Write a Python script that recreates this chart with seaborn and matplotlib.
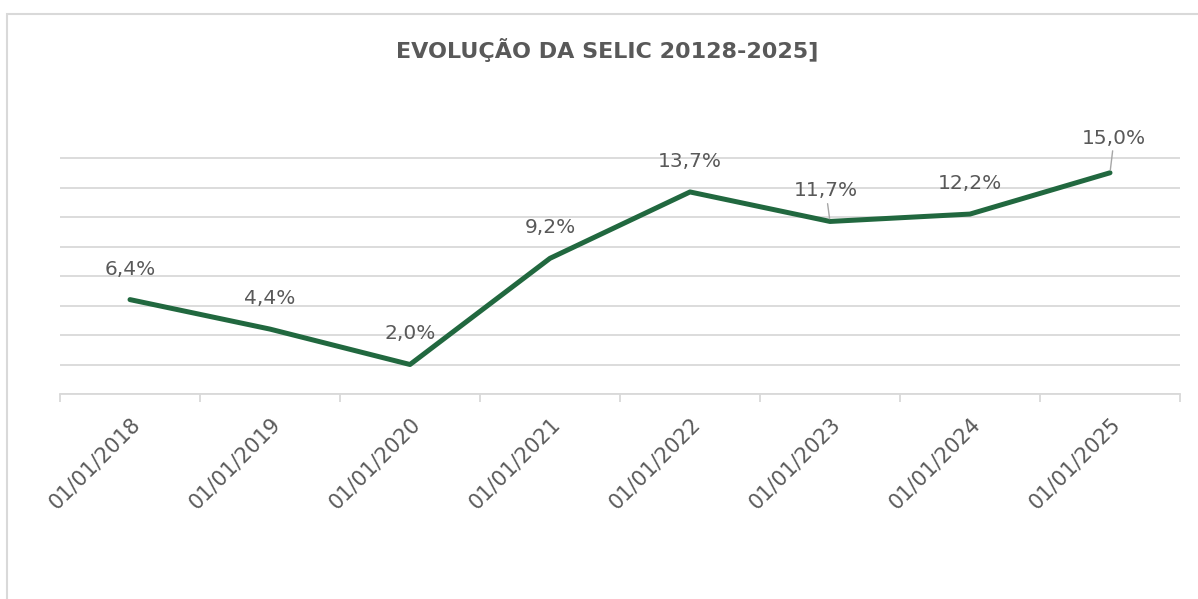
import matplotlib
matplotlib.use("Agg")
import matplotlib.pyplot as plt
import seaborn as sns
import pandas as pd
from matplotlib.patches import Rectangle
from matplotlib.ticker import FixedLocator

# ---- data ----
dates = ["01/01/2018", "01/01/2019", "01/01/2020", "01/01/2021",
         "01/01/2022", "01/01/2023", "01/01/2024", "01/01/2025"]
selic = [6.4, 4.4, 2.0, 9.2, 13.7, 11.7, 12.2, 15.0]
labels = ["6,4%", "4,4%", "2,0%", "9,2%", "13,7%", "11,7%", "12,2%", "15,0%"]
title = "EVOLUÇÃO DA SELIC 20128-2025]"

sns.set_theme(style="white")
plt.rcParams['font.family'] = ['DejaVu Sans']

df = pd.DataFrame({"data": dates, "selic": selic})

fig = plt.figure(figsize=(11.98, 5.99), dpi=100)
ax = fig.add_axes([60/1198, 1-394/599, (1180-60)/1198, (394-157)/599])

sns.lineplot(data=df, x="data", y="selic", ax=ax, color="#21683F",
             linewidth=3.6, sort=False)

n = len(dates)
ax.set_xlim(-0.5, n - 0.5)
ax.set_ylim(0, 16.07)
ax.set_yticks(range(0, 17, 2))
ax.yaxis.grid(True, color="#D9D9D9", linewidth=1.3)
ax.set_axisbelow(True)
ax.tick_params(axis="y", left=False, labelleft=False)
ax.set_xlabel("")
ax.set_ylabel("")
for s in ["left", "right", "top"]:
    ax.spines[s].set_visible(False)
ax.spines["bottom"].set_color("#D9D9D9")
ax.spines["bottom"].set_linewidth(1.3)

ax.set_xticks(range(n))
ax.set_xticklabels(dates, rotation=45, ha="right", rotation_mode="anchor",
                   fontsize=15, color="#595959")
ax.tick_params(axis="x", which="major", length=0, pad=14)
ax.xaxis.set_minor_locator(FixedLocator([i - 0.5 for i in range(n + 1)]))
ax.tick_params(axis="x", which="minor", length=5.5, width=1.3,
               color="#D9D9D9", direction="out", bottom=True)

offsets = {5: (-3, 22), 7: (3, 25)}
for i, (v, lab) in enumerate(zip(selic, labels)):
    dx, dy = offsets.get(i, (0, 22))
    kw = {}
    if i in offsets:
        kw["arrowprops"] = dict(arrowstyle="-", color="#A6A6A6", lw=1.0,
                                shrinkA=0, shrinkB=2)
    ax.annotate(lab, (i, v), xytext=(dx, dy), textcoords="offset points",
                ha="center", va="center", fontsize=14.5, color="#595959", **kw)

fig.text(607/1198, 1-50/599, title, ha="center", va="center",
         fontsize=16, fontweight="bold", color="#595959")

fig.patches.append(Rectangle((7/1198, -0.5), 2.0, 0.5 + (1-14/599),
                             transform=fig.transFigure, fill=False,
                             edgecolor="#D9D9D9", linewidth=1.5))

fig.savefig("out.png", dpi=100, facecolor="white")
